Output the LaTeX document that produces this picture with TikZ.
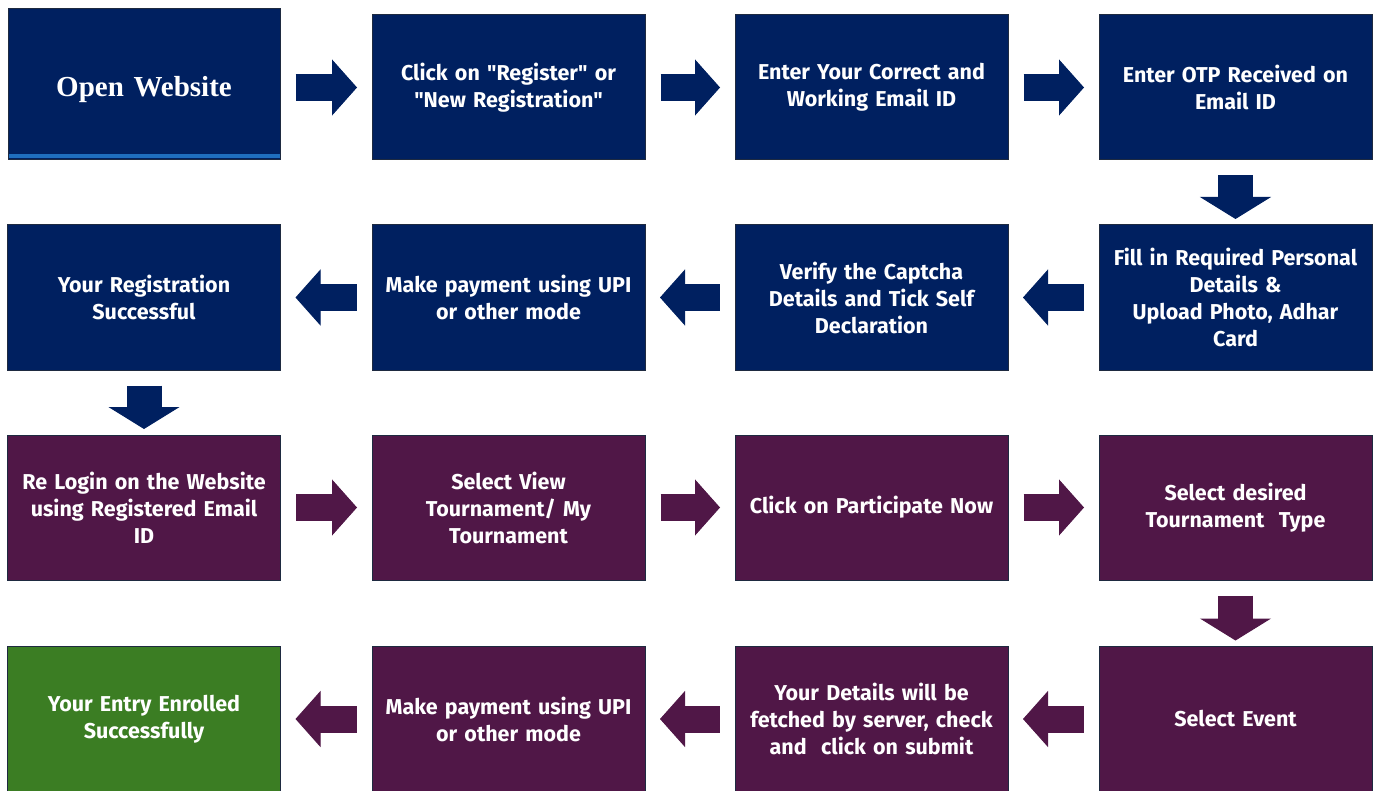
\documentclass[tikz,border=0pt]{standalone}
\usepackage{fontspec}
\setmainfont{Fira Sans}[Ligatures=TeXOff]
\newfontfamily\titlefont{Liberation Serif}
\usetikzlibrary{arrows.meta}
\definecolor{navy}{HTML}{002060}
\definecolor{plum}{HTML}{501747}
\definecolor{leaf}{HTML}{3B7D23}
\definecolor{edgeline}{HTML}{1E2A40}
\definecolor{barblue}{HTML}{1F6EBE}

\begin{document}
\begin{tikzpicture}[x=1pt,y=-1pt,
    box/.style={draw=edgeline, line width=1pt, minimum width=273pt, minimum height=145pt,
                inner sep=0pt, text=white, align=center, text width=266pt,
                font=\fontsize{21.5}{27}\selectfont\bfseries},
    bluebox/.style={box, fill=navy},
    plumbox/.style={box, fill=plum},
    leafbox/.style={box, fill=leaf},
    harrow/.style={line width=27pt, -{Triangle[width=56pt,length=25pt,line width=1pt]},
                   shorten <=15pt, shorten >=14.5pt},
    varrow/.style={line width=35pt, -{Triangle[width=71pt,length=22pt,line width=1pt]},
                   shorten <=15pt, shorten >=5.5pt}]
    \useasboundingbox (0,0) rectangle (1380,791);

    % row 1
    \node[bluebox, minimum width=272pt, minimum height=151pt, text width=260pt,
          font=\titlefont\fontsize{29}{32}\selectfont\bfseries] (S1) at (144, 84.5)
          {\raisebox{-5pt}[\height][\depth]{Open Website}};
    \fill[barblue] ([xshift=1pt,yshift=2pt]S1.south west) rectangle ([xshift=-1pt,yshift=6pt]S1.south east);
    \node[bluebox] (S2) at ( 508.5, 87.5) {Click on "Register" or\\"New Registration"};
    \node[bluebox] (S3) at ( 871.5, 87.5) {Enter Your Correct and\\Working Email ID};
    \node[bluebox] (S4) at (1235.5, 87.5) {Enter OTP Received on\\Email ID};

    % row 2
    \node[bluebox] (S5) at (1235.5, 297.5) {Fill in Required Personal\\Details \&\\Upload Photo, Adhar\\Card};
    \node[bluebox] (S6) at ( 871.5, 297.5) {Verify the Captcha\\Details and Tick Self\\Declaration};
    \node[bluebox] (S7) at ( 508.5, 297.5) {Make payment using UPI\\or other mode};
    \node[bluebox] (S8) at (   144, 297.5) {Your Registration\\Successful};

    % row 3
    \node[plumbox] (S9)  at (   144, 507.5) {Re Login on the Website\\using Registered Email\\ID};
    \node[plumbox] (S10) at ( 508.5, 507.5) {Select View\\Tournament/ My\\Tournament};
    \node[plumbox] (S11) at ( 871.5, 507.5) {Click on Participate Now};
    \node[plumbox] (S12) at (1235.5, 507.5) {Select desired\\Tournament\ \ Type};

    % row 4
    \node[plumbox] (S13) at (1235.5, 719) {Select Event};
    \node[plumbox] (S14) at ( 871.5, 719) {Your Details will be\\fetched by server, check\\and\ \ click on submit};
    \node[plumbox] (S15) at ( 508.5, 719) {Make payment using UPI\\or other mode};
    \node[leafbox] (S16) at (   144, 719) {Your Entry Enrolled\\Successfully};

    \draw[harrow, navy] (S1.east |- S2) -- (S2);
    \draw[harrow, navy] (S2) -- (S3);
    \draw[harrow, navy] (S3) -- (S4);
    \draw[varrow, navy] (S4) -- (S5);
    \draw[harrow, navy] (S5) -- (S6);
    \draw[harrow, navy] (S6) -- (S7);
    \draw[harrow, navy] (S7) -- (S8);
    \draw[varrow, navy] (S8) -- (S9);
    \draw[harrow, plum] (S9) -- (S10);
    \draw[harrow, plum] (S10) -- (S11);
    \draw[harrow, plum] (S11) -- (S12);
    \draw[varrow, plum] (S12) -- (S13);
    \draw[harrow, plum] (S13) -- (S14);
    \draw[harrow, plum] (S14) -- (S15);
    \draw[harrow, plum] (S15) -- (S16);
\end{tikzpicture}
\end{document}
